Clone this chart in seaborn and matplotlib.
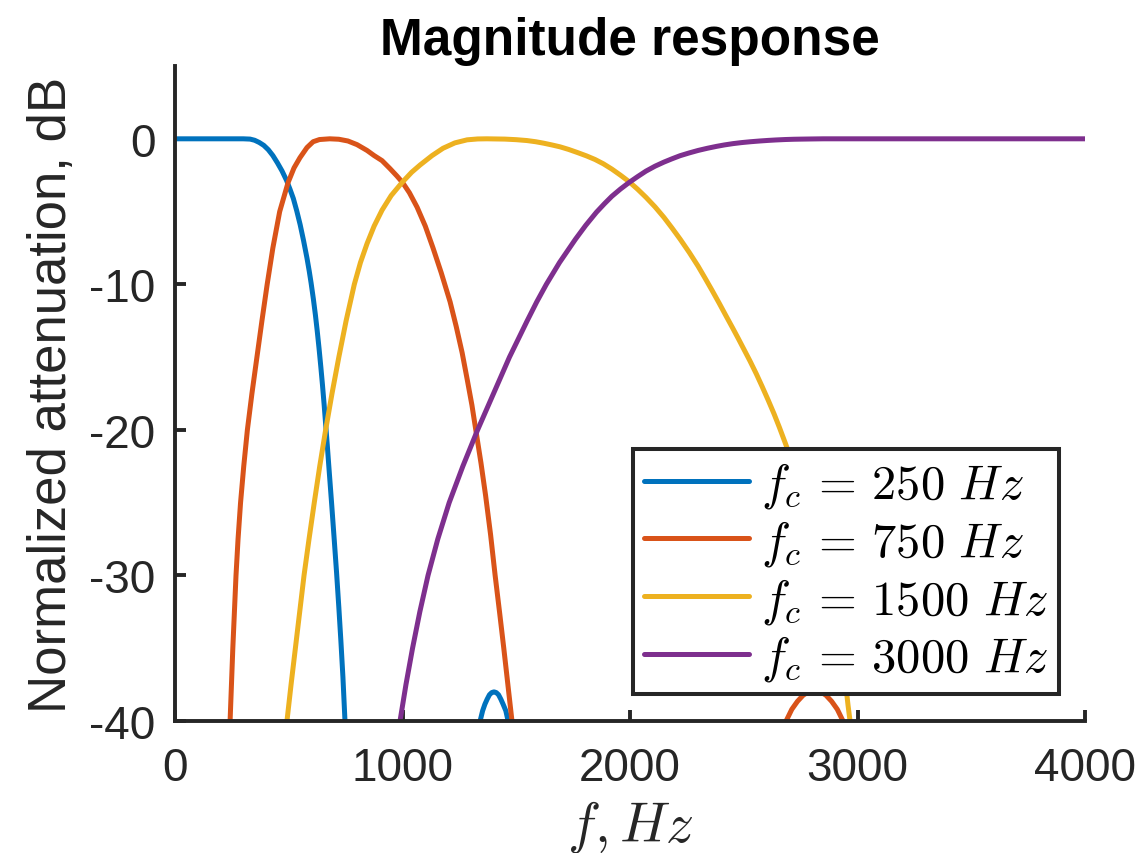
import matplotlib
matplotlib.use("Agg")
import matplotlib.pyplot as plt
import numpy as np
import pandas as pd
import seaborn as sns

# ---- filter-bank magnitude responses (frequency in Hz, level in dB) ----
band_labels = [r"$f_c \,=\, 250\ Hz$", r"$f_c \,=\, 750\ Hz$",
               r"$f_c \,=\, 1500\ Hz$", r"$f_c \,=\, 3000\ Hz$"]
band_colors = ["#0072BD", "#D95319", "#EDB120", "#7E2F8E"]

# 250 Hz low-pass: main lobe and first side lobe
f250_main = [0, 150, 300, 330, 350, 370, 390, 410, 430, 450, 470, 490, 505,
             520, 535, 550, 565, 580, 590, 598, 608, 617, 625, 633, 641, 648,
             655, 662, 669, 676, 688, 700, 710, 720, 729, 738, 747, 755]
db250_main = [0, 0, 0, -0.02, -0.1, -0.25, -0.45, -0.75, -1.15, -1.65, -2.2,
              -2.85, -3.45, -4.1, -4.95, -5.9, -7.0, -8.2, -9.1, -9.9, -11.0,
              -12.1, -13.2, -14.4, -15.7, -16.9, -18.2, -19.6, -21.0, -22.5,
              -25.0, -27.6, -29.8, -32.2, -34.5, -37.0, -40.0, -43.0]
f250_side = [1335, 1341, 1352, 1362, 1372, 1382, 1392, 1402, 1412, 1422, 1432,
             1442, 1454, 1464, 1470]
db250_side = [-43.0, -40.0, -39.3, -38.85, -38.5, -38.2, -38.05, -38.0, -38.05,
              -38.2, -38.5, -38.85, -39.3, -40.0, -43.0]

# 750 Hz band-pass: main lobe and upper side lobe
f750_main = [236, 242, 248, 254, 261, 268, 277, 288, 302, 318, 338, 360, 382,
             405, 430, 460, 497, 523, 549, 580, 607, 635, 680, 720, 760, 800,
             844, 875, 910, 945, 975, 1000, 1030, 1064, 1100, 1134, 1170, 1209,
             1236, 1262, 1285, 1305, 1322, 1345, 1365, 1387, 1407, 1427, 1445,
             1463, 1481, 1490]
db750_main = [-43.0, -40.0, -37.5, -35.0, -32.5, -30.0, -27.5, -25.0, -22.5,
              -20.0, -17.5, -15.0, -12.5, -10.0, -7.5, -5.0, -3.0, -2.0, -1.3,
              -0.6, -0.2, -0.05, 0, -0.03, -0.15, -0.4, -0.8, -1.15, -1.5,
              -2.05, -2.55, -3.0, -3.7, -4.7, -6.0, -7.5, -9.2, -11.2, -12.9,
              -14.7, -16.6, -18.3, -20.0, -22.3, -24.5, -27.2, -30.0, -32.6,
              -35.0, -37.5, -40.0, -43.0]
f750_side = [2678, 2686, 2711, 2736, 2761, 2786, 2811, 2836, 2861, 2886, 2911,
             2936, 2944]
db750_side = [-43.0, -40.0, -39.2, -38.65, -38.23, -37.98, -37.9, -37.98,
              -38.23, -38.65, -39.2, -40.0, -43.0]

# 1500 Hz band-pass
f1500 = [482, 492, 510, 529, 548, 567, 589, 612, 636, 662, 690, 720, 752, 788,
         815, 844, 875, 910, 950, 998, 1040, 1077, 1130, 1178, 1230, 1284,
         1330, 1371, 1450, 1500, 1547, 1585, 1620, 1656, 1692, 1730, 1770,
         1808, 1846, 1883, 1920, 1958, 1996, 2033, 2070, 2110, 2149, 2185,
         2220, 2260, 2299, 2330, 2360, 2392, 2422, 2450, 2475, 2500, 2527,
         2555, 2580, 2607, 2633, 2657, 2681, 2715, 2750, 2785, 2820, 2850,
         2880, 2900, 2920, 2935, 2948, 2958, 2967, 2975]
db1500 = [-44.0, -40.0, -37.5, -35.0, -32.5, -30.0, -27.5, -25.0, -22.5, -20.0,
          -17.5, -15.0, -12.5, -10.0, -8.5, -7.2, -6.0, -4.9, -3.9, -3.0, -2.3,
          -1.8, -1.15, -0.65, -0.28, -0.07, -0.01, 0, -0.02, -0.06, -0.12,
          -0.2, -0.3, -0.42, -0.55, -0.73, -0.95, -1.17, -1.42, -1.72, -2.08,
          -2.5, -2.95, -3.46, -4.02, -4.68, -5.4, -6.14, -6.89, -7.8, -8.75,
          -9.58, -10.4, -11.3, -12.17, -12.97, -13.7, -14.45, -15.26, -16.15,
          -17.0, -17.95, -18.9, -19.85, -20.85, -22.3, -23.9, -25.6, -27.4,
          -29.1, -31.0, -32.5, -34.2, -35.8, -37.5, -38.9, -40.0, -41.5]

# 3000 Hz high-pass
f3000 = [985, 989, 1015, 1044, 1076, 1112, 1155, 1205, 1265, 1330, 1400, 1470,
         1548, 1590, 1632, 1690, 1725, 1760, 1805, 1852, 1888, 1920, 1958,
         1996, 2033, 2070, 2110, 2149, 2185, 2220, 2260, 2299, 2340, 2380,
         2415, 2453, 2490, 2530, 2570, 2607, 2640, 2680, 2720, 2756, 2800,
         2850, 3000, 3500, 4000]
db3000 = [-44.0, -40.0, -37.5, -35.0, -32.5, -30.0, -27.5, -25.0, -22.5, -20.0,
          -17.5, -15.0, -12.5, -11.2, -10.0, -8.5, -7.7, -6.9, -5.95, -5.05,
          -4.45, -3.95, -3.45, -3.0, -2.6, -2.22, -1.88, -1.6, -1.37, -1.16,
          -0.97, -0.8, -0.65, -0.52, -0.42, -0.33, -0.26, -0.2, -0.15, -0.11,
          -0.08, -0.05, -0.03, -0.02, -0.01, 0, 0, 0, 0]

x_ticks = [0, 1000, 2000, 3000, 4000]
y_ticks = [-40, -30, -20, -10, 0]

# ---- long-form table: one row per sample, one unit per lobe ----
pieces = [
    (band_labels[0], "main", f250_main, db250_main),
    (band_labels[0], "side", f250_side, db250_side),
    (band_labels[1], "main", f750_main, db750_main),
    (band_labels[1], "side", f750_side, db750_side),
    (band_labels[2], "main", f1500, db1500),
    (band_labels[3], "main", f3000, db3000),
]
frames = []
for band, lobe, f, db in pieces:
    frames.append(pd.DataFrame({"band": band, "lobe": band + lobe,
                                "f": f, "db": db}))
df = pd.concat(frames, ignore_index=True)

sns.set_theme(style="white")
plt.rcParams["font.family"] = ["Liberation Sans", "DejaVu Sans"]
plt.rcParams["mathtext.fontset"] = "cm"
plt.rcParams["axes.unicode_minus"] = False

ink = "#262626"
fig = plt.figure(figsize=(11.47, 8.54), dpi=100)
ax = fig.add_axes([0.1526, 0.1546, 0.7934, 0.7669])

sns.lineplot(data=df, x="f", y="db", hue="band", units="lobe",
             estimator=None, sort=False, hue_order=band_labels,
             palette=band_colors, linewidth=3.6, ax=ax)

ax.set_xlim(0, 4000)
ax.set_ylim(-40, 5)
ax.set_xticks(x_ticks)
ax.set_yticks(y_ticks)
ax.set_xticklabels([str(v) for v in x_ticks])
ax.set_yticklabels([str(v) for v in y_ticks])

for side in ("top", "right"):
    ax.spines[side].set_visible(False)
for side in ("left", "bottom"):
    ax.spines[side].set_color(ink)
    ax.spines[side].set_linewidth(2.8)

ax.tick_params(axis="both", which="major", bottom=True, left=True,
               direction="in", length=8, width=2.8,
               color=ink, labelcolor=ink, labelsize=33)
ax.tick_params(axis="x", pad=18)
ax.tick_params(axis="y", pad=14)

ax.set_title("Magnitude response", fontsize=37, fontweight="bold",
             color="black", pad=8.5)
ax.set_ylabel("Normalized attenuation, dB", fontsize=38, color=ink,
              labelpad=9)
ax.set_xlabel(r"$f, Hz$", fontsize=40, color=ink, labelpad=6)

sns.move_legend(ax, loc="lower right", bbox_to_anchor=(0.971, 0.041),
                borderaxespad=0, title=None, frameon=True, fontsize=35,
                handlelength=2.15, handletextpad=0.25, labelspacing=0.16,
                borderpad=0.22, fancybox=False, framealpha=1)
leg = ax.get_legend()
leg.get_frame().set_edgecolor(ink)
leg.get_frame().set_linewidth(2.9)
for line in leg.get_lines():
    line.set_linewidth(3.6)
for txt in leg.get_texts():
    txt.set_color("black")

fig.savefig("out.png", dpi=100, facecolor="white")
